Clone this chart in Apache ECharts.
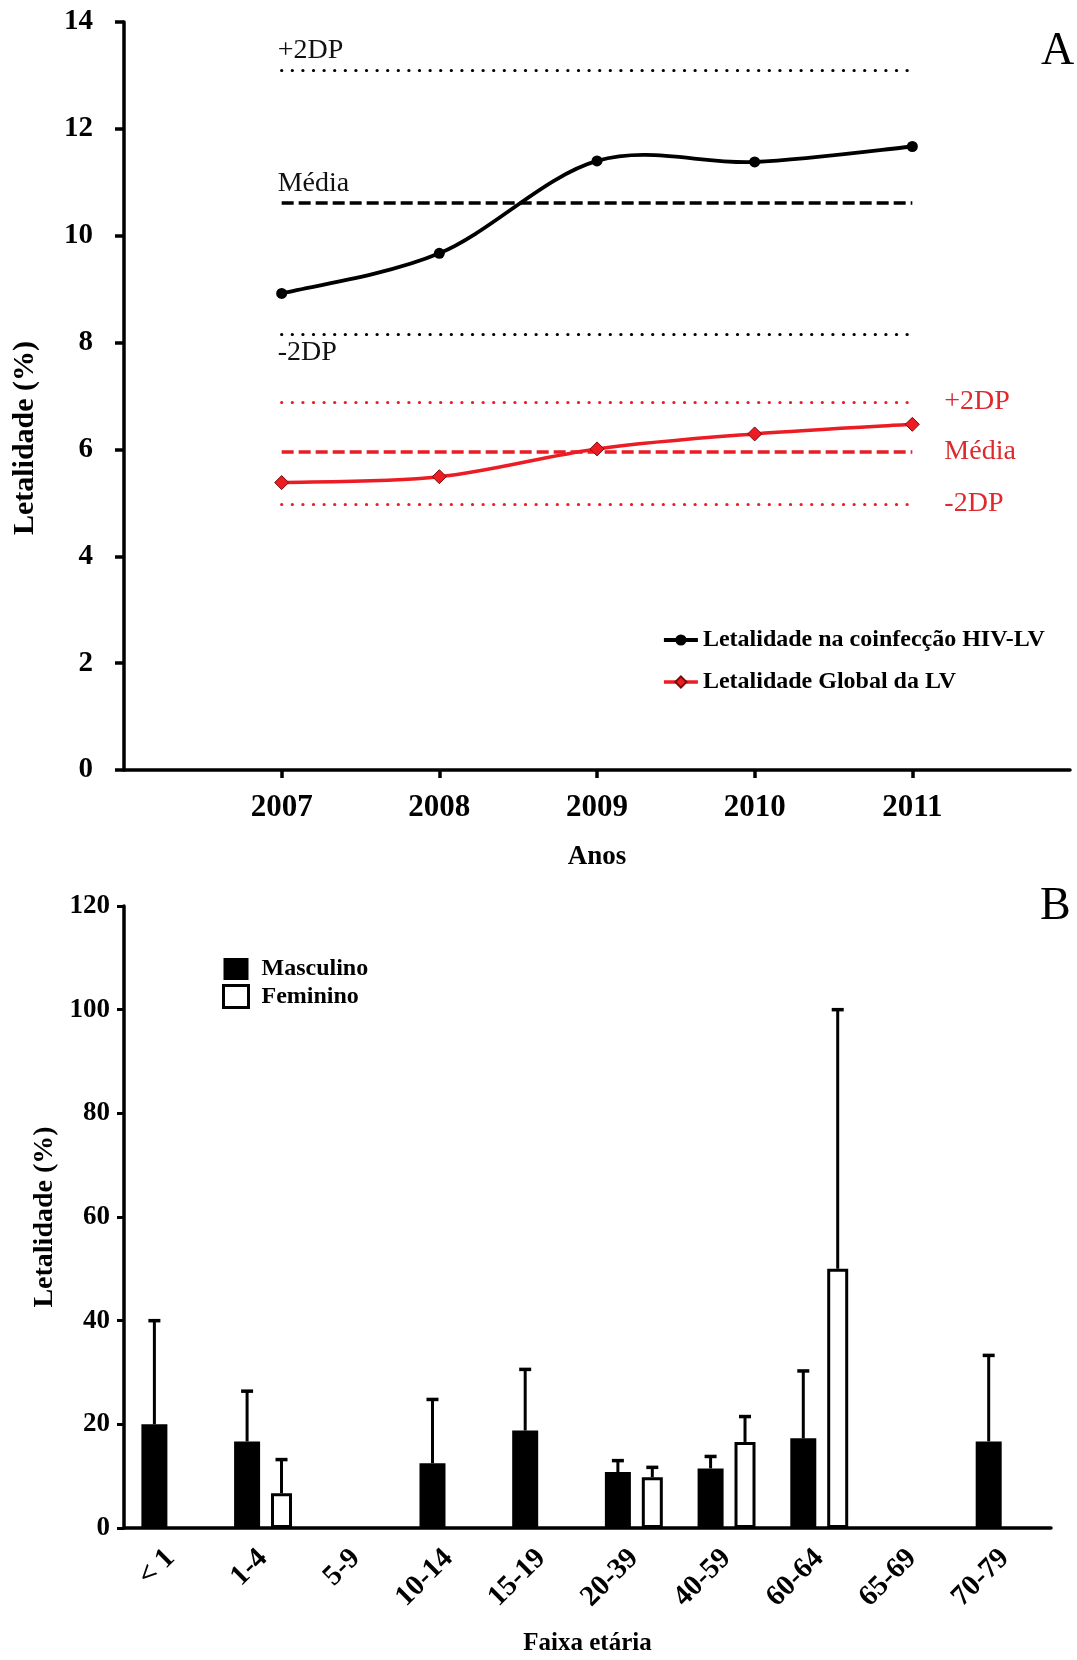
<!DOCTYPE html>
<html>
<head>
<meta charset="utf-8">
<script src="https://cdn.jsdelivr.net/npm/echarts@6/dist/echarts.min.js"></script>
<style>
  html, body { margin: 0; padding: 0; background: #fff; }
  #chart { width: 1077px; height: 1660px; }
</style>
</head>
<body>
<div id="chart"></div>
<script>
// Panel A: case-fatality by year
const years = [2007, 2008, 2009, 2010, 2011];
const letalidadeHIV = [8.92, 9.67, 11.40, 11.38, 11.67];
const letalidadeGlobal = [5.38, 5.49, 6.01, 6.29, 6.47];
const refLabels = ['+2DP', 'Média', '-2DP'];
const refHIV = [13.10, 10.62, 8.16];
const refGlobal = [6.89, 5.95, 4.98];

// Panel B: case-fatality by age group and sex (mean and upper error)
const faixas = ['< 1', '1-4', '5-9', '10-14', '15-19', '20-39', '40-59', '60-64', '65-69', '70-79'];
const masculino = [20.0, 16.7, 0, 12.5, 18.8, 10.8, 11.5, 17.3, 0, 16.7];
const feminino = [0, 6.7, 0, 0, 0, 9.8, 16.6, 50.0, 0, 0];
const masculinoSup = [40.0, 26.4, 0, 24.8, 30.6, 13.0, 13.8, 30.3, 0, 33.3];
const femininoSup = [0, 13.2, 0, 0, 0, 11.7, 21.5, 100.0, 0, 0];

const SERIF = 'Liberation Serif, Times New Roman, serif';
const RED = '#ec1c24';
const RED_TEXT = '#de2a2e';
const NAME_HIV = 'Letalidade na coinfecção HIV-LV';
const NAME_GLOBAL = 'Letalidade Global da LV';

const BAR_M = 26, BAR_F = 21, GAP = 0.42;
const barSum = BAR_M * (1 + GAP) + BAR_F;
const offM = -barSum / 2 + BAR_M / 2;
const offF = -barSum / 2 + BAR_M * (1 + GAP) + BAR_F / 2;

const DOT = [0.1, 10.5];
const DASH = [12, 5];

function refMarkLine(values, color, black) {
  return {
    silent: true,
    symbol: 'none',
    animation: false,
    data: values.map((v, i) => [
      {
        coord: [years[0], v],
        lineStyle: {
          color: color,
          opacity: 1,
          width: i === 1 ? 3.5 : 3.2,
          type: i === 1 ? DASH : DOT,
          cap: i === 1 ? 'butt' : 'round'
        },
        label: black ? {
          show: true,
          formatter: refLabels[i],
          position: i === 2 ? 'insideStartBottom' : 'insideStartTop',
          distance: [-4, 5],
          color: '#111',
          fontFamily: SERIF,
          fontSize: 28
        } : {
          show: true,
          formatter: refLabels[i],
          position: 'end',
          distance: 32,
          color: RED_TEXT,
          fontFamily: SERIF,
          fontSize: 28
        }
      },
      { coord: [years[years.length - 1], v] }
    ])
  };
}

// Cardinal (Catmull-Rom) spline through the yearly points, in pixel space
function splineRender(values, color, width) {
  return function (params, api) {
    if (params.dataIndex !== 0) return;
    const pts = years.map((y, i) => api.coord([y, values[i]]));
    const n = pts.length;
    let d = 'M' + pts[0][0] + ',' + pts[0][1];
    for (let i = 0; i < n - 1; i++) {
      const p0 = pts[Math.max(i - 1, 0)], p1 = pts[i], p2 = pts[i + 1], p3 = pts[Math.min(i + 2, n - 1)];
      const c1x = p1[0] + (p2[0] - p0[0]) / 6, c1y = p1[1] + (p2[1] - p0[1]) / 6;
      const c2x = p2[0] - (p3[0] - p1[0]) / 6, c2y = p2[1] - (p3[1] - p1[1]) / 6;
      d += ' C' + c1x + ',' + c1y + ' ' + c2x + ',' + c2y + ' ' + p2[0] + ',' + p2[1];
    }
    return {
      type: 'path',
      shape: { pathData: d },
      style: { fill: null, stroke: color, lineWidth: width, lineJoin: 'round' }
    };
  };
}

function errorRender(offset) {
  return function (params, api) {
    const top = api.value(1), base = api.value(2);
    if (!(top > base)) return;
    const p0 = api.coord([api.value(0), base]);
    const p1 = api.coord([api.value(0), top]);
    const x = p0[0] + offset;
    return {
      type: 'group',
      children: [
        { type: 'line', shape: { x1: x, y1: p0[1], x2: x, y2: p1[1] }, style: { stroke: '#000', lineWidth: 3 } },
        { type: 'line', shape: { x1: x - 6, y1: p1[1], x2: x + 6, y2: p1[1] }, style: { stroke: '#000', lineWidth: 3.5 } }
      ]
    };
  };
}

const chart = echarts.init(document.getElementById('chart'), null, { renderer: 'canvas' });

const boldText = (size) => ({ color: '#000', fontFamily: SERIF, fontWeight: 'bold', fontSize: size });

chart.setOption({
  animation: false,
  backgroundColor: '#fff',
  graphic: [
    { type: 'text', left: 1041, top: 29, style: { text: 'A', fill: '#000', font: '46px ' + SERIF } },
    { type: 'text', left: 1040, top: 884, style: { text: 'B', fill: '#000', font: '46px ' + SERIF } }
  ],
  legend: [
    {
      data: [
        { name: NAME_HIV, lineStyle: { color: '#000', width: 3.8, opacity: 1 } },
        { name: NAME_GLOBAL, lineStyle: { color: RED, width: 3.5, opacity: 1 } }
      ],
      orient: 'vertical',
      left: 657,
      top: 621,
      itemGap: 14,
      itemWidth: 34,
      itemHeight: 14,
      textStyle: Object.assign(boldText(24), { lineHeight: 28 })
    },
    {
      data: [
        { name: 'Masculino', itemStyle: { color: '#000', borderColor: '#000', borderWidth: 0 } },
        { name: 'Feminino', itemStyle: { color: '#fff', borderColor: '#000', borderWidth: 3 } }
      ],
      orient: 'vertical',
      left: 217,
      top: 952,
      icon: 'rect',
      itemGap: 3,
      itemWidth: 25,
      itemHeight: 22,
      textStyle: Object.assign(boldText(24), { padding: [0, 0, 0, 8], lineHeight: 24 })
    }
  ],
  grid: [
    { left: 124, top: 22, right: 7, height: 748, outerBoundsMode: 'none', containLabel: false },
    { left: 124, top: 906, right: 26, height: 622, outerBoundsMode: 'none', containLabel: false }
  ],
  xAxis: [
    {
      gridIndex: 0,
      type: 'value',
      min: 2006,
      max: 2012,
      interval: 1,
      name: 'Anos',
      nameLocation: 'middle',
      nameGap: 74,
      nameTextStyle: boldText(27),
      axisLine: { lineStyle: { color: '#000', width: 3.5 } },
      axisTick: { show: true, customValues: years, length: 8, lineStyle: { color: '#000', width: 3.5 } },
      axisLabel: Object.assign(boldText(31), { customValues: years, margin: 22, formatter: (v) => String(v) }),
      splitLine: { show: false }
    },
    {
      gridIndex: 1,
      type: 'category',
      data: faixas,
      boundaryGap: true,
      name: 'Faixa etária',
      nameLocation: 'middle',
      nameGap: 103,
      nameTextStyle: boldText(25),
      axisLine: { lineStyle: { color: '#000', width: 3.5 } },
      axisTick: { alignWithLabel: true, length: 6, lineStyle: { color: '#000', width: 2.5 } },
      axisLabel: Object.assign(boldText(29), { rotate: 45, margin: 26, interval: 0 }),
      splitLine: { show: false }
    }
  ],
  yAxis: [
    {
      gridIndex: 0,
      type: 'value',
      min: 0,
      max: 14,
      interval: 2,
      name: 'Letalidade (%)',
      nameLocation: 'middle',
      nameGap: 84,
      nameTextStyle: Object.assign(boldText(30), { padding: [0, 84, 0, 0] }),
      axisLine: { show: true, lineStyle: { color: '#000', width: 3.5 } },
      axisTick: { show: true, length: 9, lineStyle: { color: '#000', width: 3.5 } },
      axisLabel: Object.assign(boldText(29), { margin: 31 }),
      splitLine: { show: false }
    },
    {
      gridIndex: 1,
      type: 'value',
      min: 0,
      max: 120,
      interval: 20,
      name: 'Letalidade (%)',
      nameLocation: 'middle',
      nameGap: 62,
      nameTextStyle: boldText(28),
      axisLine: { show: true, lineStyle: { color: '#000', width: 3.5 } },
      axisTick: { show: true, length: 7, lineStyle: { color: '#000', width: 3 } },
      axisLabel: Object.assign(boldText(27), { margin: 14 }),
      splitLine: { show: false }
    }
  ],
  series: [
    {
      name: NAME_HIV + ' curva',
      type: 'custom',
      xAxisIndex: 0,
      yAxisIndex: 0,
      data: years.map((y, i) => [y, letalidadeHIV[i]]),
      encode: { x: 0, y: 1 },
      renderItem: splineRender(letalidadeHIV, '#000', 3.8),
      silent: true,
      z: 4
    },
    {
      name: NAME_GLOBAL + ' curva',
      type: 'custom',
      xAxisIndex: 0,
      yAxisIndex: 0,
      data: years.map((y, i) => [y, letalidadeGlobal[i]]),
      encode: { x: 0, y: 1 },
      renderItem: splineRender(letalidadeGlobal, RED, 3.5),
      silent: true,
      z: 4
    },
    {
      name: NAME_HIV,
      type: 'line',
      xAxisIndex: 0,
      yAxisIndex: 0,
      data: years.map((y, i) => [y, letalidadeHIV[i]]),
      symbol: 'circle',
      symbolSize: 11,
      itemStyle: { color: '#000' },
      lineStyle: { color: '#000', width: 3.8, opacity: 0 },
      markLine: refMarkLine(refHIV, '#000', true),
      z: 5
    },
    {
      name: NAME_GLOBAL,
      type: 'line',
      xAxisIndex: 0,
      yAxisIndex: 0,
      data: years.map((y, i) => [y, letalidadeGlobal[i]]),
      symbol: 'diamond',
      symbolSize: 14,
      itemStyle: { color: RED, borderColor: '#7a0c0c', borderWidth: 1 },
      lineStyle: { color: RED, width: 3.5, opacity: 0 },
      markLine: refMarkLine(refGlobal, RED, false),
      z: 5
    },
    {
      name: 'Masculino',
      type: 'bar',
      xAxisIndex: 1,
      yAxisIndex: 1,
      data: masculino,
      barWidth: BAR_M,
      barGap: (GAP * 100) + '%',
      itemStyle: { color: '#000' }
    },
    {
      name: 'Feminino',
      type: 'bar',
      xAxisIndex: 1,
      yAxisIndex: 1,
      data: feminino.map(v => (v > 0 ? v : '-')),
      barWidth: BAR_F,
      barGap: (GAP * 100) + '%',
      itemStyle: { color: '#fff', borderColor: '#000', borderWidth: 3 }
    },
    {
      name: 'Masculino erro',
      type: 'custom',
      xAxisIndex: 1,
      yAxisIndex: 1,
      data: faixas.map((_, i) => [i, masculinoSup[i], masculino[i]]),
      encode: { x: 0, y: 1 },
      renderItem: errorRender(offM),
      z: 3
    },
    {
      name: 'Feminino erro',
      type: 'custom',
      xAxisIndex: 1,
      yAxisIndex: 1,
      data: faixas.map((_, i) => [i, femininoSup[i], feminino[i]]),
      encode: { x: 0, y: 1 },
      renderItem: errorRender(offF),
      z: 3
    }
  ]
});
</script>
</body>
</html>
